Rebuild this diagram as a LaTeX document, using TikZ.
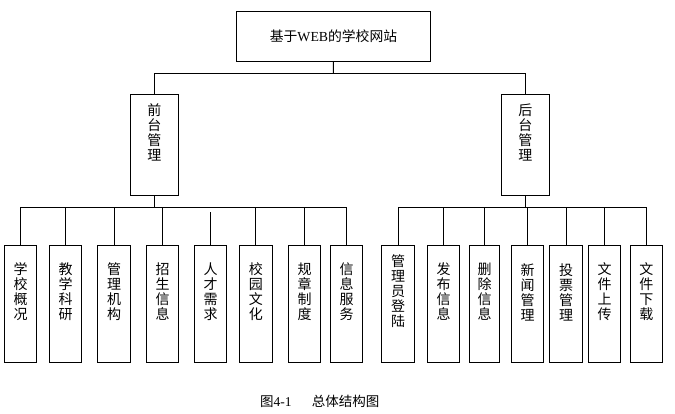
\documentclass[tikz,border=0pt]{standalone}
\usepackage{fontspec}
\setmainfont{Liberation Serif}
\newfontfamily\cjk{Noto Sans CJK SC}
\tikzset{
  box/.style={draw, line width=1pt, rectangle, inner sep=0pt},
  child/.style={box, minimum height=117.3pt},
  lbl/.style={inner sep=0pt, align=center, font=\cjk\fontsize{14}{15}\selectfont},
  conn/.style={line width=1pt},
}
\begin{document}
\begin{tikzpicture}[x=1pt, y=-1pt]
\useasboundingbox[fill=white] (0,0) rectangle (675,414);
% top
\node[box, minimum width=194.7pt, minimum height=50pt] (top) at (333.5,36.3) {};
\node[inner sep=0pt, font=\fontsize{13.8}{15}\selectfont] (toptxt) at (top.center) {\cjk 基于{\rmfamily WEB}的学校网站};
% level 2
\node[box, minimum width=48pt, minimum height=100.7pt] (front) at (154.3,144.7) {};
\node[lbl] (fronttxt) at (154.3,132.5) {前\\台\\管\\理};
\node[box, minimum width=48pt, minimum height=100.7pt] (back) at (525.3,144.7) {};
\node[lbl] (backtxt) at (525.3,132.5) {后\\台\\管\\理};
% left children
\node[child, minimum width=32.4pt] (l1) at (20.5,303.7) {};
\node[child, minimum width=32.4pt] (l2) at (65.5,303.7) {};
\node[child, minimum width=33.4pt] (l3) at (114,303.7) {};
\node[child, minimum width=32.4pt] (l4) at (162.5,303.7) {};
\node[child, minimum width=32.4pt] (l5) at (210.5,303.7) {};
\node[child, minimum width=33pt] (l6) at (255.8,303.7) {};
\node[child, minimum width=32.4pt] (l7) at (304.5,303.7) {};
\node[child, minimum width=31.6pt] (l8) at (346.5,303.7) {};
\node[lbl] (t1) at (20.5,292) {学\\校\\概\\况};
\node[lbl] (t2) at (65.5,292) {教\\学\\科\\研};
\node[lbl] (t3) at (114,292) {管\\理\\机\\构};
\node[lbl] (t4) at (162.5,292) {招\\生\\信\\息};
\node[lbl] (t5) at (210.5,292) {人\\才\\需\\求};
\node[lbl] (t6) at (255.8,292) {校\\园\\文\\化};
\node[lbl] (t7) at (304.5,292) {规\\章\\制\\度};
\node[lbl] (t8) at (346.5,292) {信\\息\\服\\务};
% right children
\node[child, minimum width=33.4pt] (r1) at (398,303.7) {};
\node[child, minimum width=32.4pt] (r2) at (443.5,303.7) {};
\node[child, minimum width=30.4pt] (r3) at (484.5,303.7) {};
\node[child, minimum width=32.4pt] (r4) at (527.5,303.7) {};
\node[child, minimum width=33.4pt] (r5) at (566,303.7) {};
\node[child, minimum width=32.4pt] (r6) at (604.5,303.7) {};
\node[child, minimum width=32pt] (r7) at (646.3,303.7) {};
\node[lbl] (s1) at (398,291) {管\\理\\员\\登\\陆};
\node[lbl] (s2) at (443.5,292) {发\\布\\信\\息};
\node[lbl] (s3) at (484.5,292) {删\\除\\信\\息};
\node[lbl] (s4) at (527.5,292) {新\\闻\\管\\理};
\node[lbl] (s5) at (566,292) {投\\票\\管\\理};
\node[lbl] (s6) at (604.5,292) {文\\件\\上\\传};
\node[lbl] (s7) at (646.3,292) {文\\件\\下\\载};
% buses
\coordinate (tbus) at (333.3,73.3);
\coordinate (lbus) at (154.3,207.3);
\coordinate (rbus) at (525.3,207.3);
\draw[conn] (top.south) -- (tbus);
\draw[conn] (front.north) |- (tbus) -| (back.north);
\draw[conn] (front.south) -- (lbus);
\draw[conn] (back.south) -- (rbus);
\draw[conn] (l1.north) |- (lbus) -| (l8.north);
\foreach \n in {l2,l3,l4,l6,l7} \draw[conn] (lbus -| \n.north) -- (\n.north);
\draw[conn] ([yshift=-5pt]lbus -| l5.north) -- (l5.north);
\draw[conn] (r1.north) |- (rbus) -| (r7.north);
\foreach \n in {r2,r3,r4,r5,r6} \draw[conn] (rbus -| \n.north) -- (\n.north);
% caption
\node[inner sep=0pt, anchor=west, font=\fontsize{13.5}{14}\selectfont] (cap1) at (260,401.7) {{\cjk 图}4-1};
\node[inner sep=0pt, anchor=west, font=\cjk\fontsize{13.5}{14}\selectfont] (cap2) at (311.7,401.7) {总体结构图};
\end{tikzpicture}
\end{document}
